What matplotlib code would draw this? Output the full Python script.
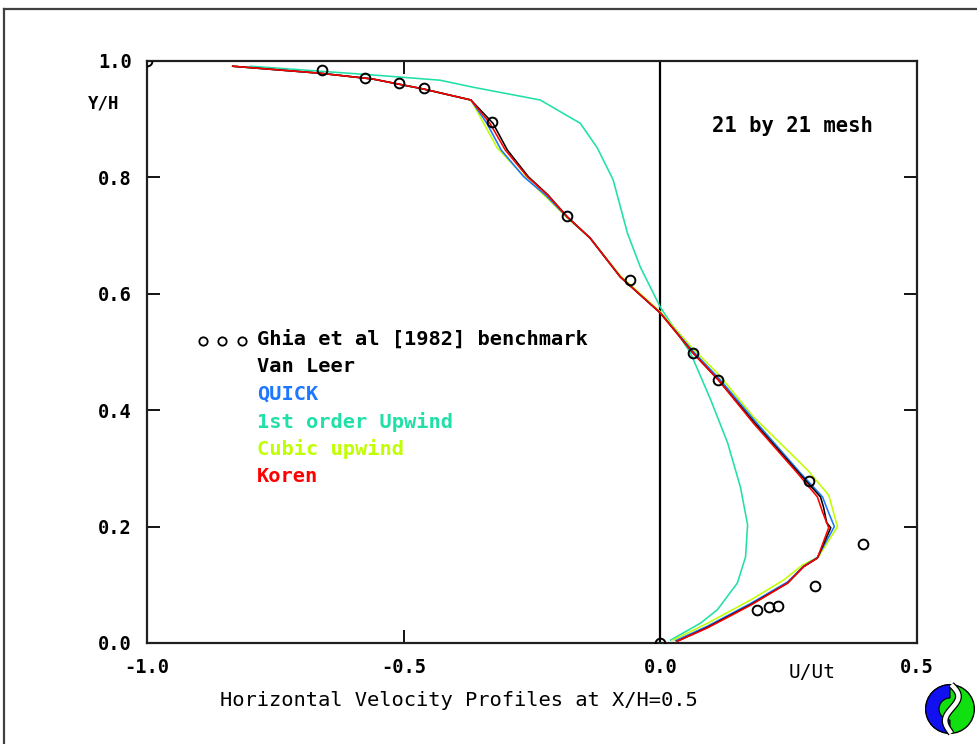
import matplotlib
matplotlib.use("Agg")
import matplotlib.pyplot as plt
from matplotlib.lines import Line2D
from matplotlib.patches import Wedge, Circle
import numpy as np

# ---------------- data ----------------
ghia_u = [-1.0, -0.659, -0.575, -0.509, -0.460, -0.328, -0.181, -0.059, 0.064, 0.113,
          0.289, 0.394, 0.302, 0.230, 0.211, 0.189, 0.0]
ghia_y = [1.0, 0.985, 0.971, 0.962, 0.954, 0.895, 0.734, 0.624, 0.498, 0.452,
          0.278, 0.170, 0.098, 0.064, 0.062, 0.057, 0.0]

koren_u = [-0.833, -0.663, -0.560, -0.462, -0.369, -0.332, -0.302, -0.259, -0.220, -0.181,
           -0.137, -0.078, 0.0, 0.064, 0.113, 0.181, 0.267, 0.306, 0.316, 0.328,
           0.306, 0.279, 0.248, 0.176, 0.092, 0.033]
koren_y = [0.991, 0.979, 0.969, 0.952, 0.933, 0.893, 0.847, 0.801, 0.770, 0.732,
           0.696, 0.629, 0.567, 0.498, 0.452, 0.378, 0.292, 0.251, 0.225, 0.198,
           0.146, 0.131, 0.103, 0.065, 0.026, 0.003]

vanleer_u = [-0.833, -0.663, -0.560, -0.462, -0.369, -0.326, -0.298, -0.257, -0.219, -0.181,
             -0.137, -0.078, 0.0, 0.064, 0.113, 0.182, 0.268, 0.312, 0.318, 0.324, 0.332,
             0.306, 0.279, 0.248, 0.176, 0.092, 0.033]
vanleer_y = [0.991, 0.979, 0.969, 0.952, 0.933, 0.893, 0.847, 0.801, 0.770, 0.732,
             0.696, 0.629, 0.567, 0.498, 0.452, 0.380, 0.294, 0.251, 0.233, 0.207, 0.198,
             0.146, 0.131, 0.103, 0.066, 0.027, 0.003]

quick_u = [-0.833, -0.663, -0.560, -0.462, -0.369, -0.338, -0.310, -0.266, -0.224, -0.182,
           -0.137, -0.078, 0.0, 0.065, 0.114, 0.184, 0.271, 0.316, 0.326, 0.339,
           0.306, 0.279, 0.248, 0.176, 0.092, 0.030]
quick_y = [0.991, 0.979, 0.969, 0.952, 0.933, 0.893, 0.847, 0.801, 0.770, 0.732,
           0.696, 0.629, 0.567, 0.500, 0.455, 0.382, 0.294, 0.251, 0.228, 0.200,
           0.147, 0.132, 0.105, 0.068, 0.029, 0.004]

upwind_u = [-0.798, -0.560, -0.429, -0.365, -0.234, -0.156, -0.123, -0.092, -0.064, -0.039,
            0.0, 0.059, 0.098, 0.131, 0.156, 0.170, 0.166, 0.150, 0.111, 0.078, 0.020]
upwind_y = [0.991, 0.976, 0.967, 0.955, 0.933, 0.893, 0.851, 0.796, 0.704, 0.646,
            0.577, 0.498, 0.418, 0.344, 0.268, 0.203, 0.148, 0.103, 0.057, 0.034, 0.005]

cubic_u = [-0.833, -0.663, -0.560, -0.462, -0.369, -0.318, -0.273, -0.220, -0.181,
           -0.137, -0.078, 0.0, 0.064, 0.113, 0.181, 0.287, 0.328, 0.345,
           0.308, 0.277, 0.240, 0.176, 0.092, 0.025]
cubic_y = [0.991, 0.979, 0.969, 0.952, 0.933, 0.851, 0.809, 0.764, 0.730,
           0.696, 0.631, 0.569, 0.505, 0.462, 0.389, 0.297, 0.254, 0.200,
           0.148, 0.134, 0.108, 0.074, 0.034, 0.005]

legend_labels = ["Ghia et al [1982] benchmark", "Van Leer", "QUICK",
                 "1st order Upwind", "Cubic upwind", "Koren"]
xtick_vals = [-1.0, -0.5, 0.0, 0.5]
xtick_labels = ["-1.0", "-0.5", "0.0", "0.5"]
ytick_vals = [0.0, 0.2, 0.4, 0.6, 0.8, 1.0]
ytick_labels = ["0.0", "0.2", "0.4", "0.6", "0.8", "1.0"]

# ---------------- style ----------------
C_BLACK = "#000000"
C_QUICK = "#1E78FF"
C_UPW = "#20E0A8"
C_CUBIC = "#C0FF00"
C_KOREN = "#FF0000"
MONO = "DejaVu Sans Mono"

W, H = 978, 744
fig = plt.figure(figsize=(W / 100, H / 100), dpi=100)
fig.patch.set_facecolor("white")

def fx(px):
    return px / W

def fy(py):
    return 1 - py / H

ax = fig.add_axes([fx(147), fy(643), fx(917) - fx(147), fy(61) - fy(643)])
ax.set_xlim(-1.0, 0.5)
ax.set_ylim(0.0, 1.0)

lw = 1.15
ax.plot(upwind_u, upwind_y, color=C_UPW, lw=lw, zorder=3)
ax.plot(cubic_u, cubic_y, color=C_CUBIC, lw=lw, zorder=4)
ax.plot(quick_u, quick_y, color=C_QUICK, lw=lw, zorder=5)
ax.plot(vanleer_u, vanleer_y, color=C_BLACK, lw=lw, zorder=6)
ax.plot(koren_u, koren_y, color=C_KOREN, lw=lw, zorder=7)
ax.plot(ghia_u, ghia_y, linestyle="none", marker="o", markersize=7,
        markerfacecolor="none", markeredgecolor="black", markeredgewidth=1.4, zorder=8)

ax.axvline(0.0, color="black", lw=1.6, zorder=2)

for s in ax.spines.values():
    s.set_linewidth(1.6)
    s.set_color("#202020")

ax.set_xticks(xtick_vals)
ax.set_xticklabels(xtick_labels)
ax.set_yticks(ytick_vals)
ax.set_yticklabels(ytick_labels)
ax.tick_params(axis="both", direction="in", length=9.5, width=1.3,
               top=True, right=True, labelsize=13.5)
ax.tick_params(axis="x", pad=11)
ax.tick_params(axis="y", pad=11)
for lab in ax.get_xticklabels() + ax.get_yticklabels():
    lab.set_fontfamily(MONO)
    lab.set_fontweight("bold")

# legend (manual, text colored)
leg_colors = ["black", "black", C_QUICK, C_UPW, C_CUBIC, C_KOREN]
y0 = 339
for i, (lab, col) in enumerate(zip(legend_labels, leg_colors)):
    fig.text(fx(257), fy(y0 + i * 27.5), lab, color=col, fontsize=14.7,
             fontfamily=MONO, fontweight="bold", va="center", ha="left")
for px in (203, 222, 242):
    fig.add_artist(Line2D([fx(px)], [fy(341)], marker="o", markersize=6,
                          markerfacecolor="none", markeredgecolor="black",
                          markeredgewidth=1.3, transform=fig.transFigure))

fig.text(fx(792), fy(126), "21 by 21 mesh", fontsize=14.8, fontfamily=MONO,
         fontweight="bold", ha="center", va="center")
fig.text(fx(104), fy(103), "Y/H", fontsize=12.5, fontfamily=MONO,
         fontweight="bold", ha="center", va="center")
fig.text(fx(812), fy(672), "U/Ut", fontsize=14, fontfamily=MONO,
         ha="center", va="center")
fig.text(fx(459), fy(700), "Horizontal Velocity Profiles at X/H=0.5", fontsize=14.7,
         fontfamily=MONO, ha="center", va="center")

# outer frame
fig.add_artist(Line2D([fx(4), fx(4)], [fy(9), 0], color="#404040", lw=1.6,
                      transform=fig.transFigure))
fig.add_artist(Line2D([fx(4), 1.0], [fy(9), fy(9)], color="#404040", lw=1.6,
                      transform=fig.transFigure))

# logo
lax = fig.add_axes([fx(922), fy(738), fx(978) - fx(922), fy(680) - fy(738)])
lax.set_xlim(-1.15, 1.15)
lax.set_ylim(-1.15, 1.15)
lax.set_aspect("equal")
lax.axis("off")
lax.add_patch(Circle((0, 0), 1.0, facecolor="#10E010", edgecolor="black", lw=1.0))
lax.add_patch(Wedge((0, 0), 1.0, 90, 270, width=0.55, facecolor="#1010F0",
                    edgecolor="black", lw=0.8))
t = np.linspace(0, 1, 80)
sx = 0.05 + 0.32 * np.sin(2 * np.pi * t) * (1 - 0.3 * t)
sy = 1.0 - 2.0 * t
lax.plot(sx, sy, color="black", lw=5.0, solid_capstyle="butt")
lax.plot(sx, sy, color="white", lw=3.2, solid_capstyle="butt")

fig.savefig("out.png", dpi=100, facecolor="white")
